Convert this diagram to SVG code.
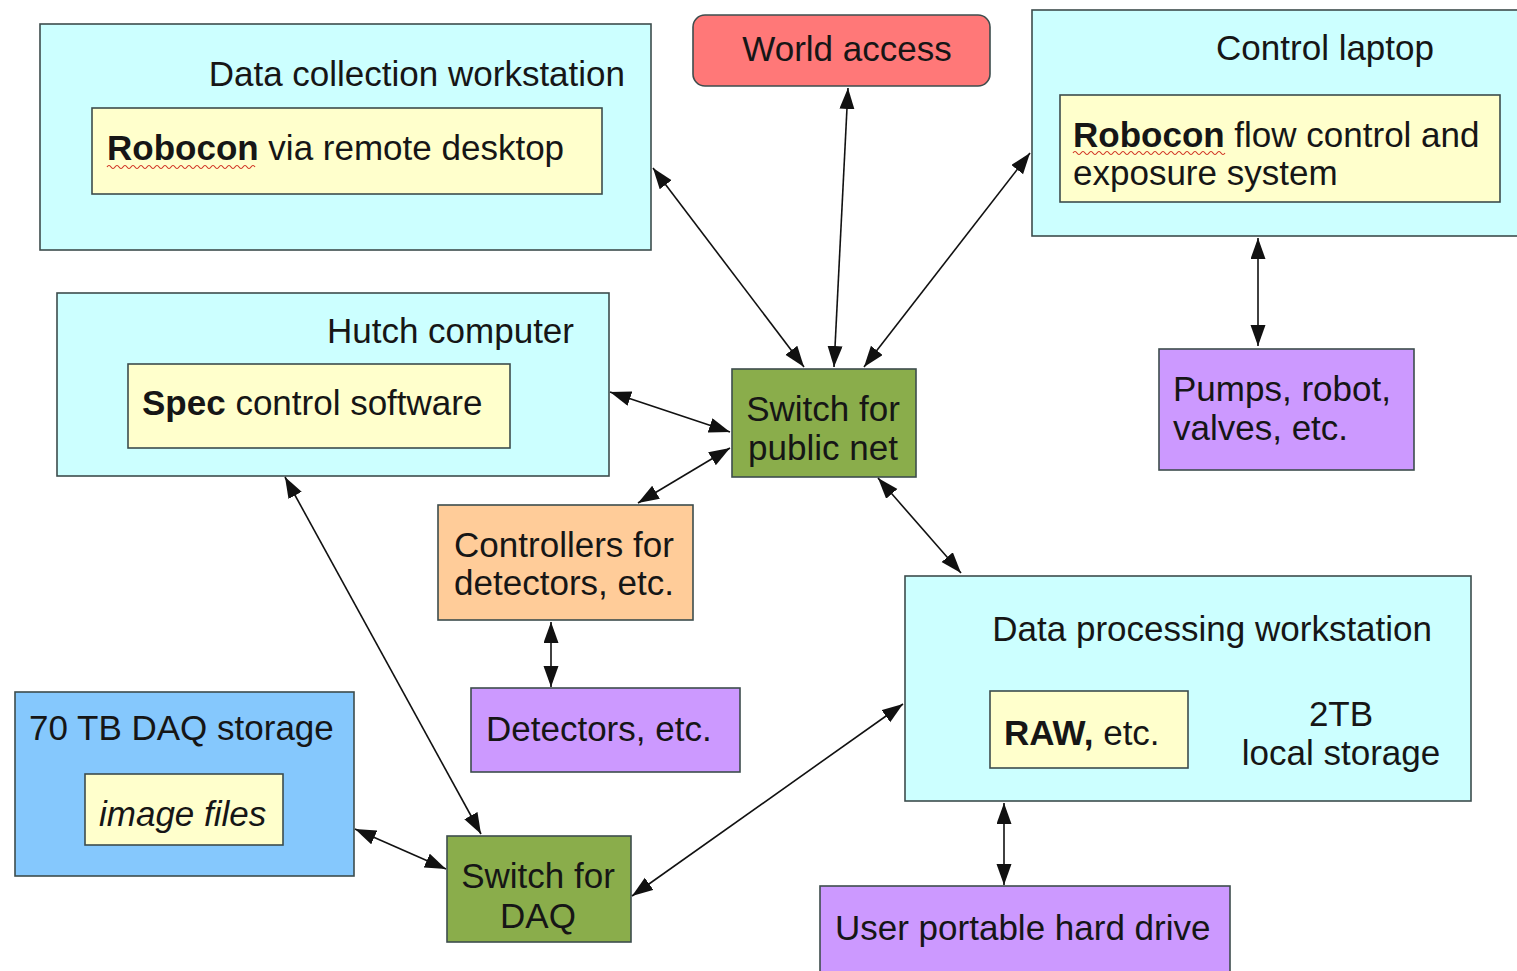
<svg xmlns="http://www.w3.org/2000/svg" width="1517" height="971" viewBox="0 0 1517 971">
<style>
  text { font-family: "Liberation Sans", Arial, sans-serif; font-size: 35px; fill: #161616; }
  .b { font-weight: bold; }
  .box { stroke: #3d4d4d; stroke-width: 1.6; }
  .cyan { fill: #ccffff; }
  .yel { fill: #ffffcc; }
  .grn { fill: #8aad4b; }
  .pur { fill: #cc99ff; }
  .org { fill: #ffcc99; }
  .blu { fill: #85c8fd; }
  .red { fill: #ff7878; }
  .conn line { stroke: #111; stroke-width: 1.6; marker-start: url(#ah); marker-end: url(#ah); }
  .wavy { fill: none; stroke: #d03020; stroke-width: 1.1; }
</style>
<defs>
  <marker id="ah" markerUnits="userSpaceOnUse" markerWidth="22" markerHeight="16" refX="21" refY="7.5" orient="auto-start-reverse" viewBox="0 0 22 16">
    <path d="M0,0 L21,7.5 L0,15 z" fill="#111"/>
  </marker>
</defs>
<rect width="1517" height="971" fill="#ffffff"/>

<g id="data-collection-workstation">
  <rect class="box cyan" x="40" y="24" width="611" height="226"/>
  <text x="625" y="86" text-anchor="end">Data collection workstation</text>
  <rect class="box yel" x="92" y="108" width="510" height="86"/>
  <text x="107" y="160"><tspan class="b">Robocon</tspan> via remote desktop</text>
  <path class="wavy" d="M107,167 q2,-3 4,0 t4,0 t4,0 t4,0 t4,0 t4,0 t4,0 t4,0 t4,0 t4,0 t4,0 t4,0 t4,0 t4,0 t4,0 t4,0 t4,0 t4,0 t4,0 t4,0 t4,0 t4,0 t4,0 t4,0 t4,0 t4,0 t4,0 t4,0 t4,0 t4,0 t4,0 t4,0 t4,0 t4,0 t4,0 t4,0 t4,0"/>
</g>

<g id="world-access">
  <rect class="box red" x="693" y="15" width="297" height="71" rx="12" ry="12"/>
  <text x="847" y="61" text-anchor="middle">World access</text>
</g>

<g id="control-laptop">
  <rect class="box cyan" x="1032" y="10" width="500" height="226"/>
  <text x="1434" y="60" text-anchor="end">Control laptop</text>
  <rect class="box yel" x="1060" y="95" width="440" height="107"/>
  <text x="1073" y="147"><tspan class="b">Robocon</tspan> flow control and</text>
  <text x="1073" y="185">exposure system</text>
  <path class="wavy" d="M1073,153 q2,-3 4,0 t4,0 t4,0 t4,0 t4,0 t4,0 t4,0 t4,0 t4,0 t4,0 t4,0 t4,0 t4,0 t4,0 t4,0 t4,0 t4,0 t4,0 t4,0 t4,0 t4,0 t4,0 t4,0 t4,0 t4,0 t4,0 t4,0 t4,0 t4,0 t4,0 t4,0 t4,0 t4,0 t4,0 t4,0 t4,0 t4,0 t4,0"/>
</g>

<g id="hutch-computer">
  <rect class="box cyan" x="57" y="293" width="552" height="183"/>
  <text x="574" y="343" text-anchor="end">Hutch computer</text>
  <rect class="box yel" x="128" y="364" width="382" height="84"/>
  <text x="142" y="415"><tspan class="b">Spec</tspan> control software</text>
</g>

<g id="switch-public">
  <rect class="box grn" x="732" y="369" width="184" height="108"/>
  <text x="823" y="421" text-anchor="middle">Switch for</text>
  <text x="823" y="460" text-anchor="middle">public net</text>
</g>

<g id="pumps">
  <rect class="box pur" x="1159" y="349" width="255" height="121"/>
  <text x="1173" y="401">Pumps, robot,</text>
  <text x="1173" y="440">valves, etc.</text>
</g>

<g id="controllers">
  <rect class="box org" x="438" y="505" width="255" height="115"/>
  <text x="564" y="557" text-anchor="middle">Controllers for</text>
  <text x="564" y="595" text-anchor="middle">detectors, etc.</text>
</g>

<g id="detectors">
  <rect class="box pur" x="471" y="688" width="269" height="84"/>
  <text x="486" y="741">Detectors, etc.</text>
</g>

<g id="data-processing-workstation">
  <rect class="box cyan" x="905" y="576" width="566" height="225"/>
  <text x="1432" y="641" text-anchor="end">Data processing workstation</text>
  <rect class="box yel" x="990" y="691" width="198" height="77"/>
  <text x="1004" y="745"><tspan class="b">RAW,</tspan> etc.</text>
  <text x="1341" y="726" text-anchor="middle">2TB</text>
  <text x="1341" y="765" text-anchor="middle">local storage</text>
</g>

<g id="daq-storage">
  <rect class="box blu" x="15" y="692" width="339" height="184"/>
  <text x="29" y="740">70 TB DAQ storage</text>
  <rect class="box yel" x="85" y="774" width="198" height="71"/>
  <text x="99" y="826" font-style="italic">image files</text>
</g>

<g id="switch-daq">
  <rect class="box grn" x="447" y="836" width="184" height="106"/>
  <text x="538" y="888" text-anchor="middle">Switch for</text>
  <text x="538" y="928" text-anchor="middle">DAQ</text>
</g>

<g id="user-portable-hard-drive">
  <rect class="box pur" x="820" y="886" width="410" height="90"/>
  <text x="835" y="940">User portable hard drive</text>
</g>

<g id="connectors" class="conn">
  <line x1="653" y1="168" x2="804" y2="367"/>
  <line x1="848" y1="88" x2="834" y2="367"/>
  <line x1="1030" y1="153" x2="864" y2="367"/>
  <line x1="1258" y1="238" x2="1258" y2="346"/>
  <line x1="610" y1="392" x2="730" y2="432"/>
  <line x1="638" y1="503" x2="730" y2="448"/>
  <line x1="878" y1="478" x2="961" y2="573"/>
  <line x1="285" y1="477" x2="481" y2="834"/>
  <line x1="551" y1="622" x2="551" y2="687"/>
  <line x1="355" y1="829" x2="446" y2="869"/>
  <line x1="903" y1="704" x2="632" y2="896"/>
  <line x1="1004" y1="803" x2="1004" y2="885"/>
</g>
</svg>
